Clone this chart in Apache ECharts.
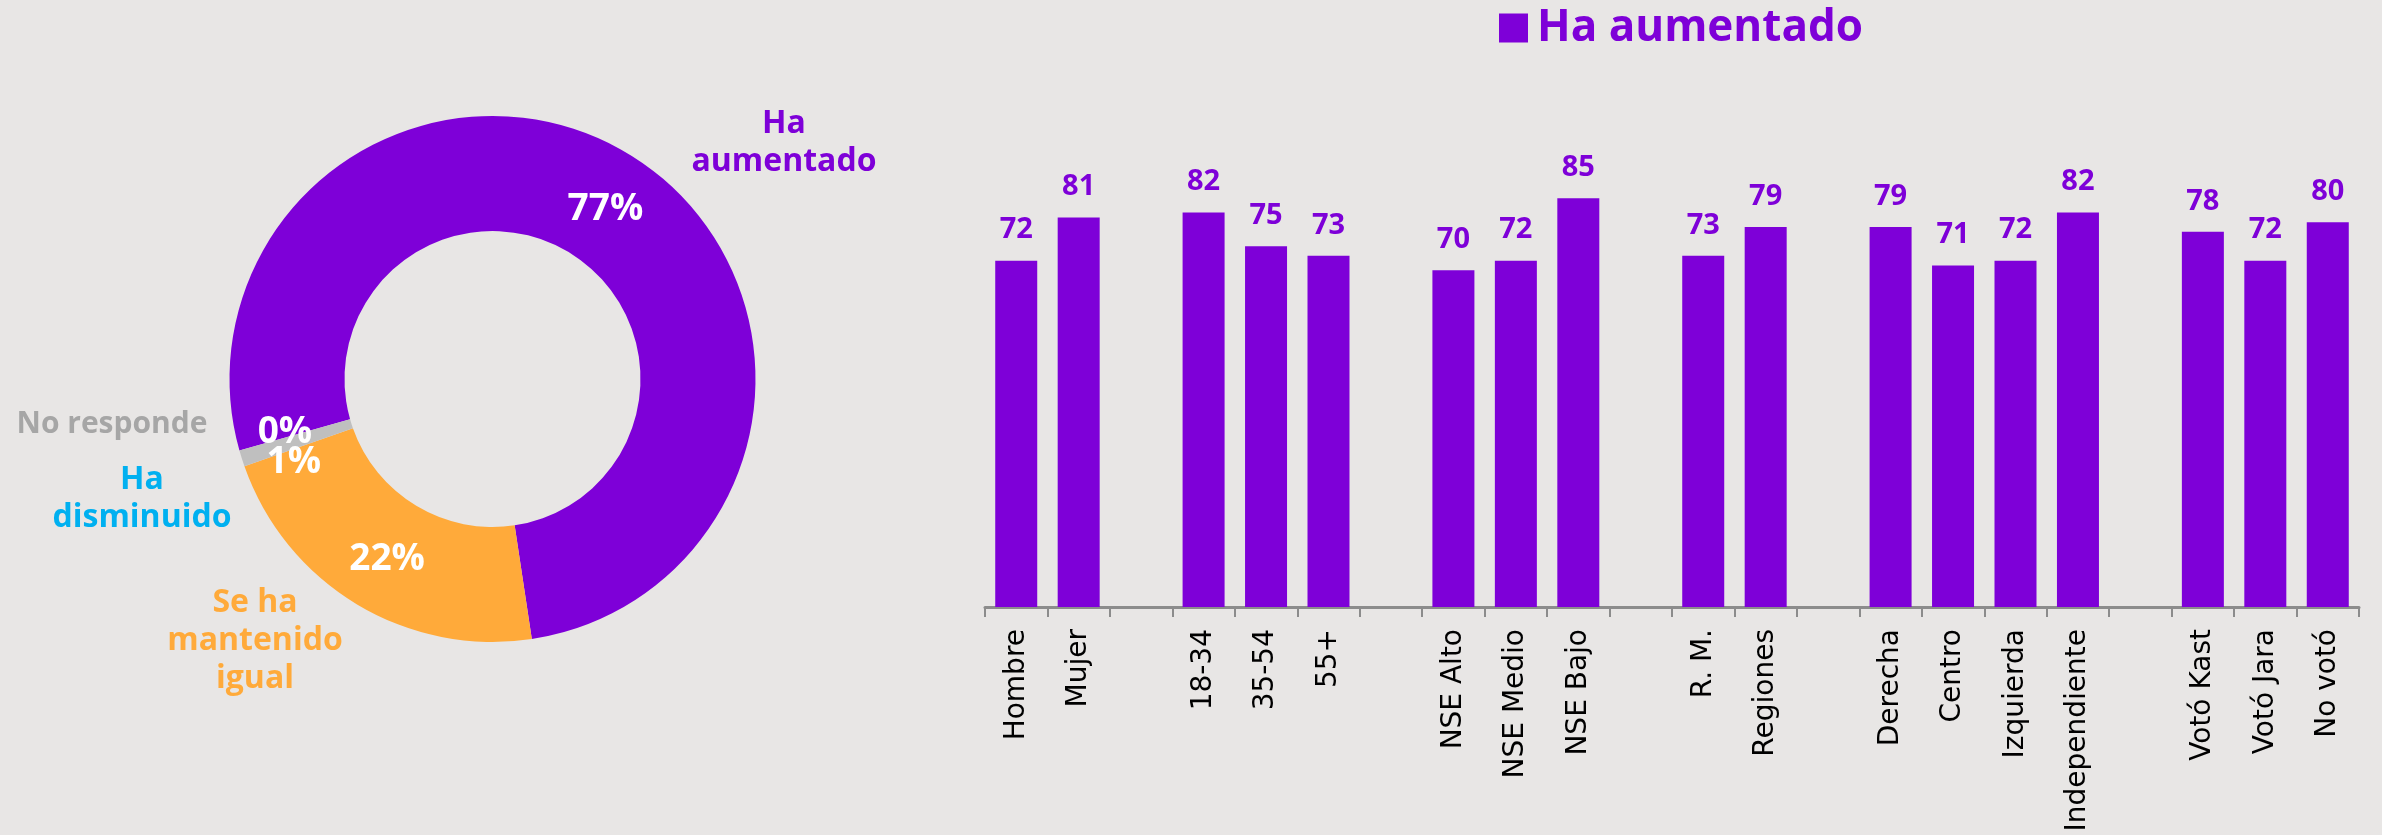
<!DOCTYPE html>
<html>
<head>
<meta charset="utf-8">
<script src="https://cdn.jsdelivr.net/npm/echarts@6/dist/echarts.min.js"></script>
<style>
html,body{margin:0;padding:0;background:#e8e6e5;}
#chart{width:2382px;height:835px;}
</style>
</head>
<body>
<div id="chart"></div>
<script>
// ---- data ----
const pieNames = ['Ha aumentado', 'Se ha mantenido igual', 'No responde', 'Ha disminuido'];
const pieLabels = ['Ha\naumentado', 'Se ha\nmantenido\nigual', 'No responde', 'Ha\ndisminuido'];
const pieValues = [77, 22, 1, 0];

const barCategories = ['Hombre', 'Mujer', '', '18-34', '35-54', '55+', '', 'NSE Alto', 'NSE Medio', 'NSE Bajo', '',
  'R. M.', 'Regiones', '', 'Derecha', 'Centro', 'Izquierda', 'Independiente', '', 'Votó Kast', 'Votó Jara', 'No votó'];
const barValues = [72, 81, null, 82, 75, 73, null, 70, 72, 85, null,
  73, 79, null, 79, 71, 72, 82, null, 78, 72, 80];
const barSeriesName = 'Ha aumentado';

// ---- styles ----
const PURPLE = '#7e00d8';
const sliceColors = [PURPLE, '#ffaa3a', '#bfbfbf', '#00b0f0'];
const nameColors = [PURPLE, '#ffaa3a', '#a6a6a6', '#00b0f0'];
const namePos = [[784, 143], [255, 641], [112, 424], [142, 499]];
const nameSizes = [32, 32, 30, 32];
const pctShift = [[0, 6], [2, 2], [0, 20], [-7, -3]];
const FONT = '"Open Sans", sans-serif';

const chart = echarts.init(document.getElementById('chart'), null, {renderer: 'canvas'});

const pieData = pieNames.map((n, i) => ({name: n, value: pieValues[i], itemStyle: {color: sliceColors[i]}}));
const nameData = pieNames.map((n, i) => ({
  name: n, value: pieValues[i],
  itemStyle: {color: 'rgba(0,0,0,0)'},
  label: {color: nameColors[i], formatter: pieLabels[i], fontSize: nameSizes[i]}
}));

const option = {
  backgroundColor: '#e8e6e5',
  animation: false,
  legend: {
    data: [{name: barSeriesName, itemStyle: {color: PURPLE}}],
    left: 1494, top: 1,
    icon: 'rect', itemWidth: 29, itemHeight: 29, itemGap: 10,
    selectedMode: false,
    textStyle: {color: PURPLE, fontFamily: FONT, fontWeight: 'bold', fontSize: 44, padding: [0, 0, 0, 4]}
  },
  grid: {left: 985, right: 23, top: 126, bottom: 228, containLabel: false, outerBoundsMode: 'none'},
  xAxis: {
    type: 'category', data: barCategories,
    axisLine: {show: true, lineStyle: {color: '#8c8c8c', width: 3}},
    axisTick: {show: true, interval: 0, length: 10, lineStyle: {color: '#8c8c8c', width: 2}},
    axisLabel: {interval: 0, rotate: 90, margin: 22, fontSize: 28, color: '#000', fontFamily: '"DejaVu Sans", sans-serif'}
  },
  yAxis: {type: 'value', min: 0, max: 100, show: false, splitLine: {show: false}},
  series: [
    {
      type: 'pie', name: 'donut',
      center: [492.5, 379], radius: [148, 263], startAngle: 195.8, clockwise: true,
      avoidLabelOverlap: false, silent: true,
      data: pieData,
      itemStyle: {borderWidth: 0},
      label: {show: true, position: 'inside', formatter: '{c}%', color: '#fff', fontFamily: FONT, fontWeight: 'bold', fontSize: 37},
      labelLine: {show: false},
      labelLayout: function (p) { const s = pctShift[p.dataIndex]; return {dx: s[0], dy: s[1]}; },
      emphasis: {disabled: true}
    },
    {
      type: 'pie', name: 'names',
      center: [492.5, 379], radius: [148, 263], startAngle: 195.8, clockwise: true,
      avoidLabelOverlap: false, silent: true, z: 1,
      data: nameData,
      label: {show: true, position: 'outside', fontFamily: FONT, fontWeight: 'bold', fontSize: 32, lineHeight: 38, align: 'center'},
      labelLine: {show: false},
      labelLayout: function (p) { const q = namePos[p.dataIndex]; return {x: q[0], y: q[1], align: 'center', verticalAlign: 'middle'}; },
      emphasis: {disabled: true}
    },
    {
      type: 'bar', name: barSeriesName,
      data: barValues, barWidth: 42,
      itemStyle: {color: PURPLE},
      label: {show: true, position: 'top', distance: 16, color: PURPLE, fontFamily: FONT, fontWeight: 'bold', fontSize: 29},
      emphasis: {disabled: true}
    }
  ]
};
chart.setOption(option);
</script>
</body>
</html>
